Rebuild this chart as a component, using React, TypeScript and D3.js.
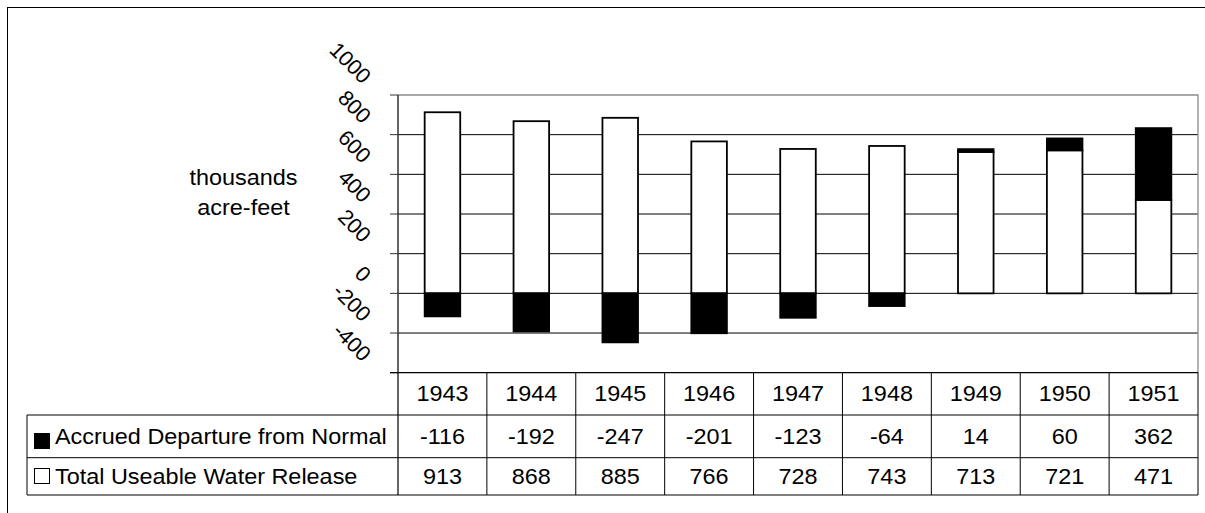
import React from "react";
import * as d3 from "d3";

// Water years shown along the category axis and in the data table
const years = ["1943", "1944", "1945", "1946", "1947", "1948", "1949", "1950", "1951"];
// Accrued departure from normal (thousands acre-feet)
const departure = [-116, -192, -247, -201, -123, -64, 14, 60, 362];
// Total useable water release (thousands acre-feet)
const release = [913, 868, 885, 766, 728, 743, 713, 721, 471];
// Value axis ticks
const yTicks = [-400, -200, 0, 200, 400, 600, 800, 1000];
const seriesNames = ["Accrued Departure from Normal", "Total Useable Water Release"];
const axisTitle = ["thousands", "acre-feet"];

const W = 1205;
const H = 513;
const FONT = "'Liberation Sans', Arial, sans-serif";
const FS = 21.5;
const STRETCH = 1.09;

// Horizontal text with the slightly wide glyph proportions of the original chart
function HText({
  x,
  y,
  anchor = "start",
  children,
}: {
  x: number;
  y: number;
  anchor?: "start" | "middle" | "end";
  children: React.ReactNode;
}) {
  return (
    <text
      transform={`translate(${x},${y}) scale(${STRETCH},1)`}
      textAnchor={anchor}
      fontSize={FS}
      fill="#000"
    >
      {children}
    </text>
  );
}

export default function App() {
  const plotLeft = 398;
  const plotRight = 1198;
  const plotTop = 95;
  const plotBottom = 372.7;

  const x = d3.scaleBand<string>().domain(years).range([plotLeft, plotRight]).padding(0);
  const y = d3.scaleLinear().domain([-400, 1000]).range([plotBottom, plotTop]);
  const barW = x.bandwidth() * 0.4;

  const rows = years.map((yr, i) => ({ year: yr, release: release[i], departure: departure[i] }));
  const stacked = d3
    .stack<any>()
    .keys(["release", "departure"])
    .offset(d3.stackOffsetDiverging)(rows);

  // Data table row boundaries
  const rowY = [plotBottom, 415, 457.7, 495];
  const legendLeft = 27;
  const baseline = (i: number) => (rowY[i] + rowY[i + 1]) / 2 + FS * 0.34;

  return (
    <svg
      width={W}
      height={H}
      style={{ position: "absolute", left: 0, top: 0, background: "#fff" }}
      fontFamily={FONT}
    >
      <rect x={0} y={0} width={W} height={H} fill="#fff" />
      {/* chart frame */}
      <rect x={7.5} y={7.5} width={W + 20} height={H + 20} fill="none" stroke="#000" strokeWidth={1} />

      {/* axis title */}
      {axisTitle.map((t, i) => (
        <HText key={t} x={243.5} y={185 + i * 30} anchor="middle">
          {t}
        </HText>
      ))}

      {/* gridlines */}
      {yTicks
        .filter((v) => v > -400 && v < 1000)
        .map((v) => (
          <line key={v} x1={plotLeft} x2={plotRight} y1={y(v)} y2={y(v)} stroke="#000" strokeWidth={1} />
        ))}
      {/* plot border top & right */}
      <path
        d={`M${plotLeft},${plotTop}H${plotRight}V${plotBottom}`}
        fill="none"
        stroke="#8c8c8c"
        strokeWidth={1.3}
      />

      {/* bars */}
      {stacked.map((s) =>
        s.map((d, i) => {
          const y0 = y(Math.max(d[0], d[1]));
          const y1 = y(Math.min(d[0], d[1]));
          const isDep = s.key === "departure";
          return (
            <rect
              key={s.key + i}
              x={(x(years[i]) as number) + (x.bandwidth() - barW) / 2}
              y={y0}
              width={barW}
              height={y1 - y0}
              fill={isDep ? "#000" : "#fff"}
              stroke="#000"
              strokeWidth={1.8}
            />
          );
        })
      )}

      {/* value axis */}
      <line x1={plotLeft} x2={plotLeft} y1={plotTop} y2={rowY[3]} stroke="#333" strokeWidth={1.5} />
      {yTicks.map((v) => (
        <g key={v}>
          <line x1={plotLeft - 8} x2={plotLeft} y1={y(v)} y2={y(v)} stroke="#333" strokeWidth={1} />
          <text
            transform={`translate(362,${y(v) - 10}) rotate(45)`}
            textAnchor="end"
            fontSize={FS}
            fill="#000"
          >
            {v}
          </text>
        </g>
      ))}

      {/* data table */}
      <line x1={plotLeft - 8} x2={plotRight} y1={rowY[0]} y2={rowY[0]} stroke="#000" strokeWidth={1.2} />
      {[1, 2, 3].map((r) => (
        <line key={r} x1={legendLeft} x2={plotRight} y1={rowY[r]} y2={rowY[r]} stroke="#000" strokeWidth={1} />
      ))}
      <line x1={legendLeft} x2={legendLeft} y1={rowY[1]} y2={rowY[3]} stroke="#000" strokeWidth={1} />
      {years.map((yr) => (
        <line
          key={yr}
          x1={(x(yr) as number) + x.bandwidth()}
          x2={(x(yr) as number) + x.bandwidth()}
          y1={rowY[0]}
          y2={rowY[3]}
          stroke="#000"
          strokeWidth={1}
        />
      ))}
      {years.map((yr, i) => {
        const cx = (x(yr) as number) + x.bandwidth() / 2;
        return (
          <g key={yr}>
            <HText x={cx} y={baseline(0)} anchor="middle">{yr}</HText>
            <HText x={cx} y={baseline(1)} anchor="middle">{departure[i]}</HText>
            <HText x={cx} y={baseline(2)} anchor="middle">{release[i]}</HText>
          </g>
        );
      })}

      {/* legend keys */}
      <rect x={34.5} y={433.5} width={15} height={15} fill="#000" stroke="#000" strokeWidth={1} />
      <rect x={34.5} y={468.5} width={15} height={15} fill="#fff" stroke="#000" strokeWidth={1} />
      <HText x={55} y={baseline(1)}>{seriesNames[0]}</HText>
      <HText x={55} y={baseline(2)}>{seriesNames[1]}</HText>
    </svg>
  );
}
